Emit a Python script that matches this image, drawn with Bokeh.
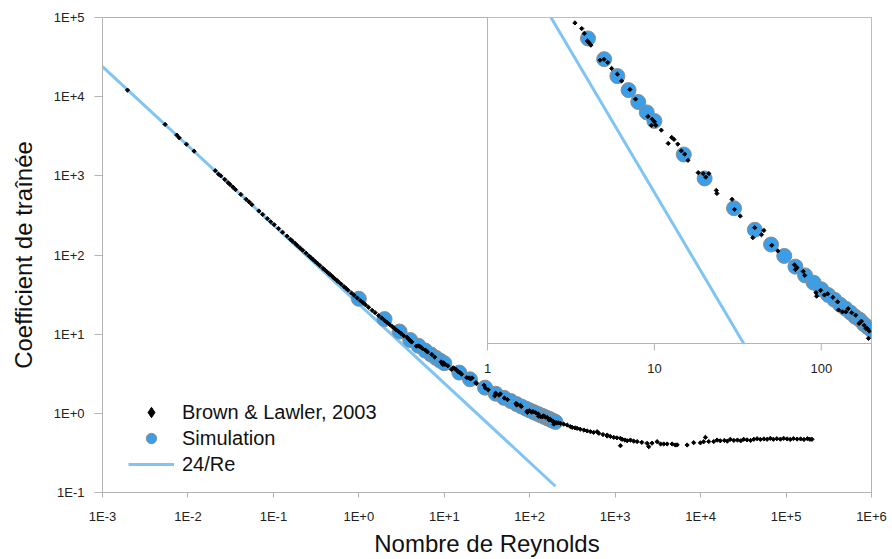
import math
from bokeh.plotting import figure
from bokeh.models import (Range1d, FixedTicker, CustomJSTickFormatter, Legend,
                          LegendItem, LogScale)
from bokeh.core.properties import value
from bokeh.embed import file_html
from bokeh.resources import INLINE

# ---------------- data ----------------
# Brown & Lawler (2003) compilation: Reynolds number / drag coefficient
bl_re = [0.00196, 0.0054, 0.0074, 0.0079, 0.0096, 0.0118, 0.0209, 0.0228, 0.0242, 0.027,
         0.0295, 0.031, 0.0335, 0.036, 0.0416, 0.048, 0.052, 0.056, 0.0676, 0.075,
         0.085, 0.093, 0.102, 0.115, 0.128, 0.1445, 0.158, 0.167, 0.18, 0.19,
         0.205, 0.22, 0.24, 0.26, 0.275, 0.29, 0.31, 0.327, 0.35, 0.38,
         0.40, 0.42, 0.445, 0.467, 0.495, 0.52, 0.55, 0.58, 0.62, 0.67,
         0.71, 0.75, 0.82, 0.88, 0.96, 1.05, 1.12, 1.20, 1.30, 1.43,
         1.55, 1.70, 1.85, 2.00, 2.15, 2.30, 2.45, 2.60, 2.75, 2.90,
         3.10, 3.34, 3.67, 3.80, 3.96, 4.05, 4.16, 4.72, 4.99, 5.25,
         5.54, 6.00, 6.36, 7.13, 7.71, 9.15, 9.70, 10.0, 9.60, 10.2,
         11.0, 12.1, 12.7, 13.1, 13.8, 14.5, 15.2, 15.9, 18.3, 19.6,
         21.2, 20.3, 23.5, 23.7, 29.2, 30.2, 32.7, 39.9, 38.9, 43.8,
         45.3, 50.5, 54.9, 69.1, 70.0, 71.5, 77.9, 79.6, 93.0, 93.8,
         99.1, 104.5, 109.3, 117.3, 125.4, 127.0, 134.0, 140.4, 145.0, 152.0,
         160.8, 168.5, 174.0, 180.7, 185.7, 188.8, 191.8, 193.8,
         205, 215, 229, 250, 275, 300, 314, 340, 359, 390,
         430, 470, 514, 560, 615, 643, 720, 806, 805, 880,
         963, 1050, 1153, 1153, 1207, 1300, 1381, 1510, 1650, 1807,
         2050, 2366, 2473, 2700, 3097, 3400, 3702, 4055, 4641, 5070,
         5311, 6950, 8304, 9947, 10870, 11380, 12450, 14240, 15590, 17000,
         19000, 20500, 22300, 24500, 27000, 29500, 31900, 35000, 38500, 42000,
         45800, 50000, 55000, 60000, 65500, 71000, 78000, 86000, 93800, 103000,
         112000, 122000, 134600, 148000, 162000, 178000, 190000, 201000]
bl_cd = [12100, 4460, 3270, 3020, 2510, 2050, 1160, 1050, 1000, 900,
         820, 780, 722, 670, 582, 505, 468, 433, 360, 325,
         288, 263, 242, 216, 194, 173, 158, 150, 140, 132,
         123, 115, 106, 97.8, 92.5, 88.0, 82.5, 78.5, 73.6, 68.0,
         64.8, 61.8, 58.5, 56.0, 53.0, 50.5, 48.0, 45.6, 43.0, 39.9,
         37.8, 35.9, 33.1, 31.0, 28.6, 26.4, 25.0, 23.4, 21.8, 20.0,
         18.7, 17.2, 16.0, 14.9, 14.0, 13.2, 12.5, 11.9, 11.3, 10.86,
         10.27, 9.57, 9.14, 8.78, 8.26, 8.15, 7.98, 7.06, 7.11, 6.93,
         6.60, 6.30, 5.96, 5.56, 5.14, 4.46, 4.36, 4.27, 4.15, 4.15,
         3.99, 3.58, 3.76, 3.70, 3.56, 3.37, 3.28, 3.12, 2.82, 2.80,
         2.80, 2.72, 2.44, 2.38, 2.27, 2.09, 1.98, 1.80, 1.66, 1.70,
         1.76, 1.56, 1.49, 1.33, 1.28, 1.30, 1.26, 1.22, 1.06, 1.03,
         1.08, 1.04, 1.05, 1.02, 0.983, 0.92, 0.906, 0.906, 0.93, 0.90,
         0.882, 0.824, 0.84, 0.812, 0.791, 0.791, 0.73, 0.775,
         0.76, 0.76, 0.748, 0.73, 0.711, 0.678, 0.665, 0.655, 0.647, 0.63,
         0.615, 0.60, 0.586, 0.575, 0.586, 0.559, 0.54, 0.532, 0.517, 0.51,
         0.497, 0.49, 0.483, 0.39, 0.47, 0.46, 0.451, 0.46, 0.445, 0.44,
         0.43, 0.418, 0.379, 0.42, 0.438, 0.41, 0.41, 0.41, 0.41, 0.398,
         0.40, 0.398, 0.426, 0.424, 0.438, 0.497, 0.44, 0.44, 0.46, 0.45,
         0.455, 0.445, 0.47, 0.455, 0.46, 0.45, 0.47, 0.462, 0.455, 0.47,
         0.478, 0.468, 0.475, 0.47, 0.483, 0.47, 0.478, 0.472, 0.483, 0.475,
         0.468, 0.48, 0.473, 0.475, 0.468, 0.478, 0.47, 0.47]

# Simulation
sim_re = [1, 2, 3, 4, 5, 6, 7, 8, 9, 10, 15, 20, 30, 40, 50, 60, 70, 80, 90, 100,
          110, 120, 130, 140, 150, 160, 170, 180, 190, 200]
sim_cd = [28.0, 15.5, 10.8, 8.43, 7.12, 6.20, 5.53, 5.02, 4.61, 4.30, 3.27, 2.69, 2.11,
          1.77, 1.57, 1.43, 1.31, 1.22, 1.15, 1.09, 1.04, 1.00, 0.96, 0.93, 0.90,
          0.87, 0.85, 0.82, 0.80, 0.78]

# 24/Re (Stokes law) drawn between these Reynolds numbers
stokes_re = [0.001, 200]

x_ticks = [1e-3, 1e-2, 1e-1, 1e0, 1e1, 1e2, 1e3, 1e4, 1e5, 1e6]
y_ticks = [1e-1, 1e0, 1e1, 1e2, 1e3, 1e4, 1e5]

# inset (zoom on 1 <= Re <= 200)
inset_x_min, inset_x_max = 1, 200
inset_y_min, inset_y_max = 0.7, 10
inset_x_ticks = [1, 10, 100]
inset_x_labels = ["1", "10", "100"]

# ---------------- style ----------------
FONT = "Liberation Sans"
GREY = "#b3b3b3"
SIM_BLUE = "#3a9ee8"
SIM_EDGE = "#8c8c8c"
LINE_BLUE = "#80c4f4"
TXT = "#222222"
# where the inset sits inside the main frame (fractions of the frame size)
INSET_LEFT_FRAC = 0.5007
INSET_BOTTOM_FRAC = 0.3137

exp_fmt = CustomJSTickFormatter(code="""
const e = Math.round(Math.log10(tick));
return '1E' + (e >= 0 ? '+' : '') + e;
""")

p = figure(width=892, height=559, x_axis_type="log", y_axis_type="log",
           x_range=Range1d(1e-3, 1e6), y_range=Range1d(0.1, 1e5),
           toolbar_location=None, output_backend="svg",
           min_border_left=102, min_border_right=21, min_border_top=17,
           min_border_bottom=67, outline_line_color=GREY)
p.grid.visible = False

for ax in (p.xaxis[0], p.yaxis[0]):
    ax.axis_line_color = GREY
    ax.major_tick_line_color = GREY
    ax.minor_tick_line_color = None
    ax.major_tick_in = 0
    ax.major_label_text_font = FONT
    ax.major_label_text_font_size = "13px"
    ax.major_label_text_color = TXT
    ax.axis_label_text_font = FONT
    ax.axis_label_text_font_style = "normal"
    ax.axis_label_text_font_size = "24px"
    ax.axis_label_text_color = "#111111"
    ax.formatter = exp_fmt

xa = p.xaxis[0]
xa.ticker = FixedTicker(ticks=x_ticks, minor_ticks=[])
xa.major_tick_out = 5
xa.major_label_standoff = 11
xa.axis_label = "Nombre de Reynolds"
xa.axis_label_standoff = 3

ya = p.yaxis[0]
ya.ticker = FixedTicker(ticks=y_ticks, minor_ticks=[])
ya.major_tick_out = 8
ya.major_label_standoff = 10
ya.axis_label = "Coefficient de traînée"
ya.axis_label_standoff = 14

# ---- main plot ----
stokes_cd = [24.0 / r for r in stokes_re]
stokes_line = p.line(stokes_re, stokes_cd, line_color=LINE_BLUE, line_width=3)
p.scatter(sim_re, sim_cd, marker="circle", size=15, fill_color=SIM_BLUE,
          line_color=SIM_EDGE, line_width=1)
p.scatter(bl_re, bl_cd, marker="square", angle=45, angle_units="deg", size=3,
          fill_color="black", line_color="black", line_width=1)

# ---- inset: extra log ranges mapped onto the upper-right part of the frame ----
lx0, lx1 = math.log10(inset_x_min), math.log10(inset_x_max)
span_x = (lx1 - lx0) / (1 - INSET_LEFT_FRAC)
ly0, ly1 = math.log10(inset_y_min), math.log10(inset_y_max)
span_y = (ly1 - ly0) / (1 - INSET_BOTTOM_FRAC)
p.extra_x_ranges = {"ix": Range1d(10 ** (lx0 - INSET_LEFT_FRAC * span_x), inset_x_max)}
p.extra_y_ranges = {"iy": Range1d(10 ** (ly0 - INSET_BOTTOM_FRAC * span_y), inset_y_max)}
p.extra_x_scales = {"ix": LogScale()}
p.extra_y_scales = {"iy": LogScale()}
IN = dict(x_range_name="ix", y_range_name="iy")

# inset panel
p.quad(left=[inset_x_min], right=[inset_x_max], bottom=[inset_y_min], top=[inset_y_max],
       fill_color="white", line_color=GREY, line_width=1, **IN)


def inside(xs, ys):
    sel = [(a, b) for a, b in zip(xs, ys)
           if inset_x_min <= a <= inset_x_max and inset_y_min <= b <= inset_y_max]
    return [a for a, _ in sel], [b for _, b in sel]


# 24/Re within the inset panel
in_line_re = [24.0 / inset_y_max, 24.0 / inset_y_min]
p.line(in_line_re, [24.0 / r for r in in_line_re], line_color=LINE_BLUE, line_width=3, **IN)
sx, sy = inside(sim_re, sim_cd)
p.scatter(sx, sy, marker="circle", size=15, fill_color=SIM_BLUE, line_color=SIM_EDGE,
          line_width=1, **IN)
bx, by = inside(bl_re, bl_cd)
p.scatter(bx, by, marker="square", angle=45, angle_units="deg", size=3,
          fill_color="black", line_color="black", line_width=1, **IN)

# inset x axis: ticks and labels under the panel
p.ray(x=inset_x_ticks, y=[inset_y_min] * len(inset_x_ticks), length=7,
      length_units="screen", angle=-90, angle_units="deg", line_color=GREY,
      line_width=1, **IN)
p.text(x=inset_x_ticks, y=[inset_y_min] * len(inset_x_ticks), text=inset_x_labels,
       y_offset=25, text_align="center", text_baseline="middle",
       text_font=value(FONT), text_font_size="13px", text_color=TXT, **IN)

# ---- legend (hidden copies for the legend symbols) ----
leg_bl = p.scatter(bl_re, bl_cd, marker="diamond", size=13,
                   fill_color="black", line_color="black", visible=False)
leg_sim = p.scatter(sim_re, sim_cd, marker="circle", size=12, fill_color=SIM_BLUE,
                    line_color=SIM_EDGE, line_width=1, visible=False)

legend = Legend(items=[LegendItem(label="Brown & Lawler, 2003", renderers=[leg_bl], index=0),
                       LegendItem(label="Simulation", renderers=[leg_sim], index=0),
                       LegendItem(label="24/Re", renderers=[stokes_line])],
                location=(26, 15), label_text_font=FONT, label_text_font_size="20px",
                label_text_color="#111111", glyph_width=46, glyph_height=26,
                label_height=20, label_standoff=8, spacing=0, padding=0, margin=0,
                border_line_alpha=0, background_fill_alpha=0,
                inactive_fill_alpha=0, click_policy="none")
p.add_layout(legend)

open("out.html", "w").write(file_html(p, INLINE))
